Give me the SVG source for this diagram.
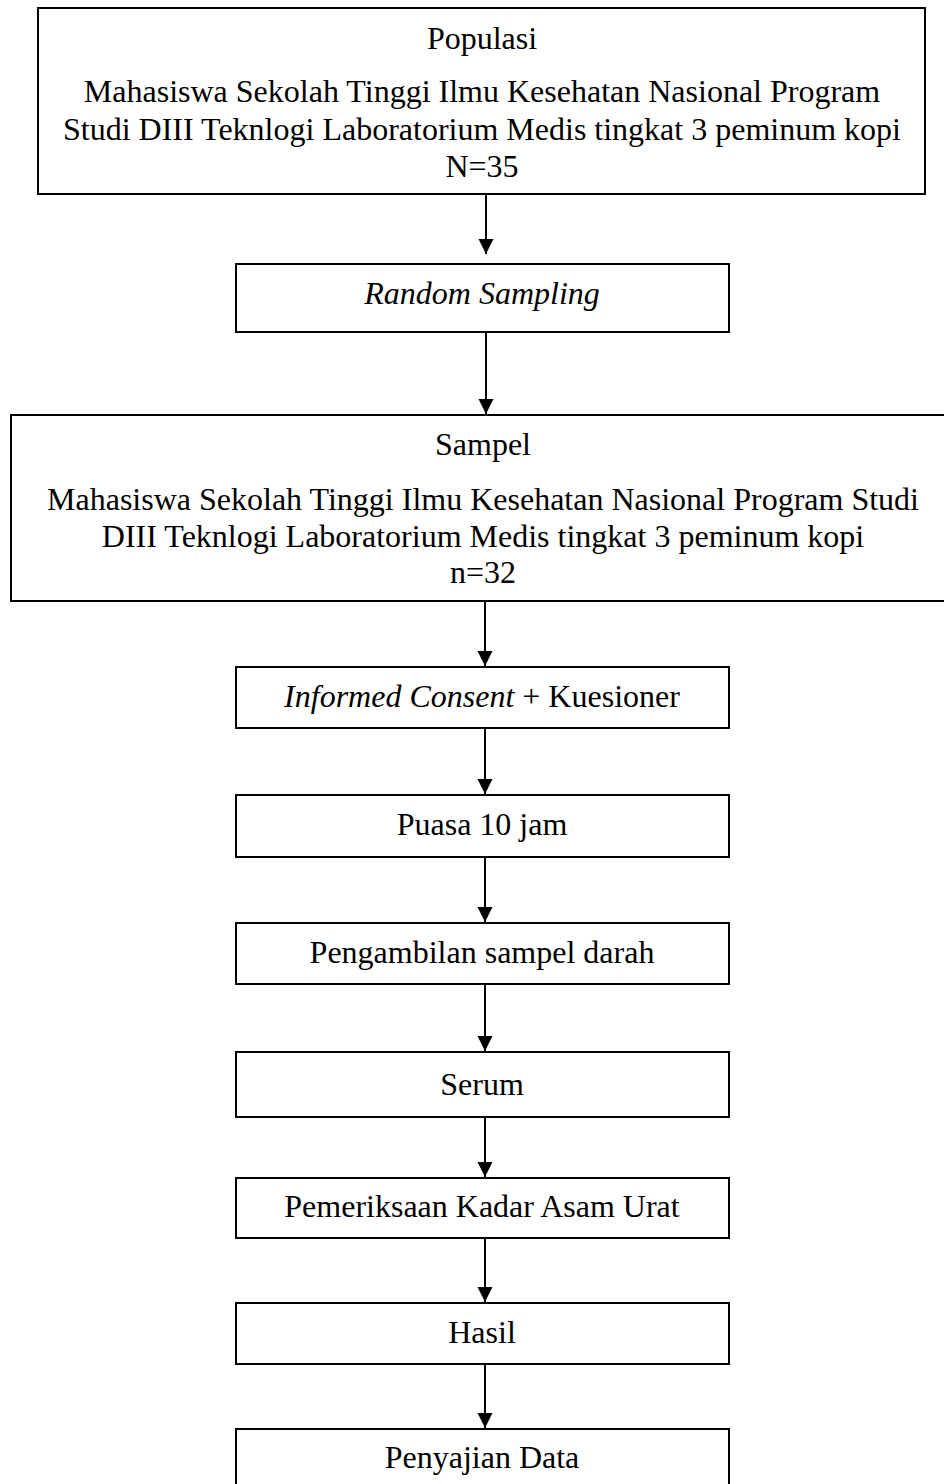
<svg xmlns="http://www.w3.org/2000/svg" width="944" height="1484" viewBox="0 0 944 1484">
<style>
.box{fill:#fff;stroke:#000;stroke-width:2}
.t{font-family:"Liberation Serif","Times New Roman",serif;font-size:32px;fill:#000;text-anchor:middle}
.i{font-style:italic}
.c{stroke:#000;stroke-width:2;fill:none}
</style>
<defs>
<marker id="ah" markerUnits="userSpaceOnUse" markerWidth="18" markerHeight="18" refX="15" refY="7.5" orient="auto">
<path d="M0,0 L15,7.5 L0,15 Z" fill="#000"/>
</marker>
</defs>
<rect width="944" height="1484" fill="#fff"/>
<g id="connectors">
<line class="c" x1="486" y1="194" x2="486" y2="254" marker-end="url(#ah)"/>
<line class="c" x1="486" y1="332" x2="486" y2="414" marker-end="url(#ah)"/>
<line class="c" x1="485" y1="601" x2="485" y2="666" marker-end="url(#ah)"/>
<line class="c" x1="485" y1="728" x2="485" y2="794" marker-end="url(#ah)"/>
<line class="c" x1="485" y1="857" x2="485" y2="922" marker-end="url(#ah)"/>
<line class="c" x1="485" y1="984" x2="485" y2="1051" marker-end="url(#ah)"/>
<line class="c" x1="485" y1="1117" x2="485" y2="1177" marker-end="url(#ah)"/>
<line class="c" x1="485" y1="1238" x2="485" y2="1302" marker-end="url(#ah)"/>
<line class="c" x1="485" y1="1364" x2="485" y2="1428" marker-end="url(#ah)"/>
</g>
<g id="populasi">
<rect class="box" x="38" y="8" width="887" height="186"/>
<text class="t" x="482" y="49">Populasi</text>
<text class="t" x="482" y="102">Mahasiswa Sekolah Tinggi Ilmu Kesehatan Nasional Program</text>
<text class="t" x="482" y="140">Studi DIII Teknlogi Laboratorium Medis tingkat 3 peminum kopi</text>
<text class="t" x="482" y="177">N=35</text>
</g>
<g id="random">
<rect class="box" x="236" y="264" width="493" height="68"/>
<text class="t i" x="482" y="304">Random Sampling</text>
</g>
<g id="sampel">
<rect class="box" x="11" y="415" width="944" height="186"/>
<text class="t" x="483" y="455">Sampel</text>
<text class="t" x="483" y="510">Mahasiswa Sekolah Tinggi Ilmu Kesehatan Nasional Program Studi</text>
<text class="t" x="483" y="547">DIII Teknlogi Laboratorium Medis tingkat 3 peminum kopi</text>
<text class="t" x="483" y="583">n=32</text>
</g>
<g id="informed">
<rect class="box" x="236" y="667" width="493" height="61"/>
<text class="t" x="482" y="707"><tspan class="i">Informed Consent</tspan> + Kuesioner</text>
</g>
<g id="puasa">
<rect class="box" x="236" y="795" width="493" height="62"/>
<text class="t" x="482" y="835">Puasa 10 jam</text>
</g>
<g id="pengambilan">
<rect class="box" x="236" y="923" width="493" height="61"/>
<text class="t" x="482" y="963">Pengambilan sampel darah</text>
</g>
<g id="serum">
<rect class="box" x="236" y="1052" width="493" height="65"/>
<text class="t" x="482" y="1095">Serum</text>
</g>
<g id="pemeriksaan">
<rect class="box" x="236" y="1178" width="493" height="60"/>
<text class="t" x="482" y="1217">Pemeriksaan Kadar Asam Urat</text>
</g>
<g id="hasil">
<rect class="box" x="236" y="1303" width="493" height="61"/>
<text class="t" x="482" y="1343">Hasil</text>
</g>
<g id="penyajian">
<rect class="box" x="236" y="1429" width="493" height="70"/>
<text class="t" x="482" y="1468">Penyajian Data</text>
</g>
</svg>
